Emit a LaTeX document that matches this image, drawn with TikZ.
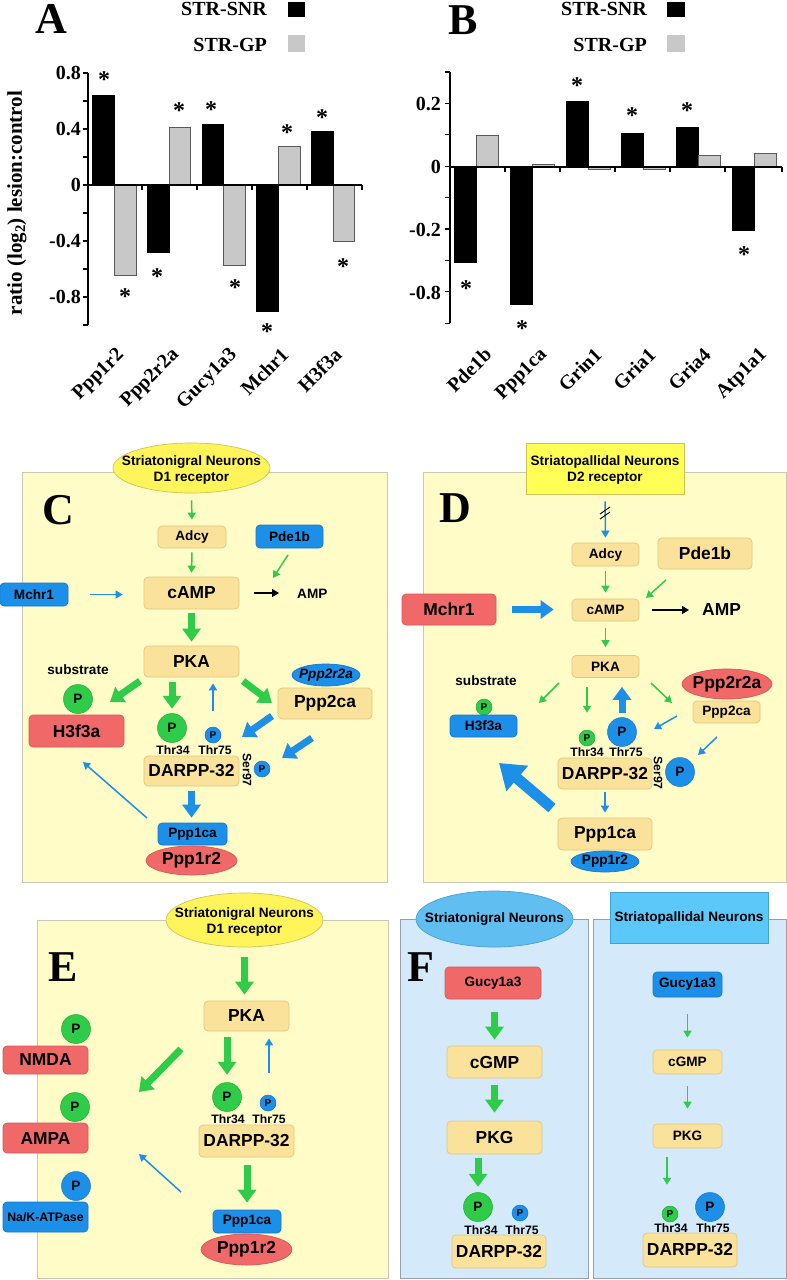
\documentclass[tikz,border=0pt]{standalone}
\usepackage{fontspec}
\setmainfont{Liberation Sans}
\newfontfamily\tms{Liberation Serif}
\usetikzlibrary{arrows.meta,shapes.geometric}
\definecolor{bgY}{RGB}{255,252,200}
\definecolor{bgYb}{RGB}{200,200,180}
\definecolor{bgB}{RGB}{212,234,250}
\definecolor{bgBb}{RGB}{150,160,170}
\definecolor{wh}{RGB}{251,226,155}
\definecolor{whb}{RGB}{225,198,128}
\definecolor{bl}{RGB}{28,144,232}
\definecolor{blb}{RGB}{20,120,205}
\definecolor{rd}{RGB}{240,104,104}
\definecolor{rdb}{RGB}{215,88,88}
\definecolor{gr}{RGB}{46,204,72}
\definecolor{grb}{RGB}{35,170,60}
\definecolor{yel}{RGB}{255,245,90}
\definecolor{yelb}{RGB}{205,195,90}
\definecolor{yelR}{RGB}{255,255,85}
\definecolor{skyE}{RGB}{96,190,240}
\definecolor{skyR}{RGB}{92,200,250}
\definecolor{skyb}{RGB}{70,160,210}
\definecolor{barg}{RGB}{200,200,200}
\definecolor{bargb}{RGB}{90,90,90}
\newcommand\fsS{\fontsize{13.6}{16.5}\selectfont\bfseries}
\newcommand\fsL{\fontsize{17.4}{19}\selectfont\bfseries}
\newcommand\fsT{\fontsize{12.2}{13}\selectfont\bfseries}
\newcommand\fsC{\tms\fontsize{20}{22}\selectfont\bfseries}
\newcommand\fsLet{\tms\fontsize{44}{44}\selectfont\bfseries}
\tikzset{
  bgY/.style={fill=bgY, draw=bgYb, line width=0.8pt},
  bgB/.style={fill=bgB, draw=bgBb, line width=0.8pt},
  box/.style={rectangle, rounded corners=4pt, inner sep=0pt, line width=0.7pt},
  wb/.style={box, fill=wh, draw=whb},
  bb/.style={box, fill=bl, draw=blb},
  rb/.style={box, fill=rd, draw=rdb},
  ell/.style={ellipse, inner sep=0pt, line width=0.7pt},
  be/.style={ell, fill=bl, draw=blb},
  re/.style={ell, fill=rd, draw=rdb},
  ye/.style={ell, fill=yel, draw=yelb},
  sz/.style 2 args={minimum width=#1pt, minimum height=#2pt},
  pL/.style={circle, inner sep=0pt, minimum size=29pt, font=\fsS},
  pS/.style={circle, inner sep=0pt, minimum size=16pt, font=\fontsize{10}{10}\selectfont\bfseries},
  pg/.style={fill=gr, draw=grb, line width=0.5pt},
  pb/.style={fill=bl, draw=blb, line width=0.5pt},
  txt/.style={inner sep=0pt},
  tarr/.style={line width=1.5pt, -{Triangle[length=7pt,width=8pt]}},
  karr/.style={line width=7pt, -{Triangle[length=13pt,width=18pt]}},
  harr/.style={line width=11pt, -{Triangle[length=24pt,width=32pt]}},
  ax/.style={line width=1.3pt},
  barK/.style={fill=black, draw=black, line width=0.6pt},
  barG/.style={fill=barg, draw=bargb, line width=0.6pt},
  astk/.style={inner sep=0pt, font=\tms\bfseries\fontsize{24}{24}\selectfont},
  xl/.style={inner sep=0pt, font=\fsC, rotate=45, anchor=north east},
}
\begin{document}
\begin{tikzpicture}[x=1pt,y=-1pt]
\useasboundingbox (0,0) rectangle (787,1280);
\fill[white] (0,0) rectangle (787,1280);

%================ Panel A =================
\node[txt, font=\fsLet] (a-let) at (51,19) {A};
\node[txt, font=\fsC, anchor=east] (a-l1) at (267,9) {STR-SNR};
\fill[black] (288,2) rectangle (305,17);
\node[txt, font=\fsC, anchor=east] (a-l2) at (267,45) {STR-GP};
\fill[barg] (288,35) rectangle (305,52);
\node[txt, font=\tms\bfseries\fontsize{21}{22}\selectfont, rotate=90] (a-yl) at (17,203) {ratio (log\textsubscript{2}) lesion:control};
\foreach \x/\b/\g in {92.7/95.7/275, 147.3/252.7/127, 201.9/124/265, 256.5/311/146, 311.1/131/241}{
  \filldraw[barK] (\x,185) rectangle ({\x+21.8},\b);
  \filldraw[barG] ({\x+21.8},185) rectangle ({\x+43.4},\g);
}
\draw[ax] (88,73) -- (88,325);
\foreach \k in {0,...,9} \draw[ax] (83,{73+28*\k}) -- (88,{73+28*\k});
\draw[ax] (88,185) -- (362,185);
\foreach \x in {142,197,252,307,362} \draw[ax] (\x,185) -- (\x,190);
\foreach \v/\y [count=\i] in {0.8/73,0.4/129,0/185,-0.4/241,-0.8/297}
  \node[txt, font=\fsC, anchor=east] (a-t\i) at (81,\y) {\v};
\foreach \x/\y [count=\i] in {104/77,125/294,157/274,179/108,211/107,235/285,267/329,287/130,322/115,343/264}
  \node[astk] (a-s\i) at (\x,{\y+3}) {*};
\foreach \t/\x [count=\i] in {Ppp1r2/115,Ppp2r2a/170,Gucy1a3/228,Mchr1/280,H3f3a/333}
  \node[xl] (a-x\i) at (\x,346) {\t};

%================ Panel B =================
\node[txt, font=\fsLet] (b-let) at (463.5,20) {B};
\node[txt, font=\fsC, anchor=east] (b-l1) at (647,9) {STR-SNR};
\fill[black] (667,2) rectangle (685,17);
\node[txt, font=\fsC, anchor=east] (b-l2) at (647,45) {STR-GP};
\fill[barg] (667,35) rectangle (685,52);
\foreach \x/\b/\g in {454/262/135, 510/304/164, 566/101/169.5, 621/133/169.5, 676/127/155, 732/230/153}{
  \filldraw[barK] (\x,167) rectangle ({\x+22.5},\b);
  \filldraw[barG] ({\x+22.5},167) rectangle ({\x+44},\g);
}
\draw[ax] (450,72) -- (450,323.2);
\foreach \k in {0,...,8} \draw[ax] (445,{72+31.4*\k}) -- (450,{72+31.4*\k});
\draw[ax] (450,167) -- (782,167);
\foreach \x in {505,560,615,670,725,782} \draw[ax] (\x,167) -- (\x,172);
\foreach \v/\y [count=\i] in {0.2/104,0/167,-0.2/230,-0.8/293}
  \node[txt, font=\fsC, anchor=east] (b-t\i) at (441,\y) {\v};
\foreach \x/\y [count=\i] in {466/286,522/326,577/83,632/113,687/108,744/252}
  \node[astk] (b-s\i) at (\x,{\y+3}) {*};
\foreach \t/\x [count=\i] in {Pde1b/483,Ppp1ca/538,Grin1/593,Gria1/647,Gria4/702,Atp1a1/758}
  \node[xl] (b-x\i) at (\x,346) {\t};

%================ Panel C =================
\draw[bgY] (22,472) rectangle (387,882);
\node[ye, sz={157}{50}] (c-src) at (191.5,468) {};
\node[txt, font=\fsS, align=center] (c-srct) at (191.5,470) {Striatonigral Neurons\\D1 receptor};
\node[txt, font=\fsLet] (c-let) at (58.5,510) {C};
\node[wb, sz={68}{22}, font=\fsS] (c-adcy) at (192,537) {Adcy};
\node[bb, sz={67}{23}, font=\fsS] (c-pde) at (289.5,536.5) {Pde1b};
\node[wb, sz={95}{32}, font=\fsL] (c-camp) at (191.5,593) {cAMP};
\node[bb, sz={68}{23}, font=\fsS] (c-mchr) at (34,594.5) {Mchr1};
\node[txt, font=\fsS, anchor=west] (c-amp) at (297,594) {AMP};
\node[wb, sz={95}{31}, font=\fsL] (c-pka) at (191.5,661.5) {PKA};
\node[txt, font=\fsS] (c-sub) at (78,670) {substrate};
\node[pL, pg] (c-ph) at (78,699) {P};
\node[rb, sz={95}{32}, font=\fsL] (c-h3) at (76.5,731) {H3f3a};
\node[be, sz={68}{22}, label={[font=\fsS\itshape]center:Ppp2r2a}] (c-r2a) at (326,675) {};
\node[wb, sz={94}{31}, font=\fsL] (c-p2ca) at (325,703.5) {Ppp2ca};
\node[pL, pg] (c-p34) at (172,728) {P};
\node[pS, pb] (c-p75) at (213,735) {P};
\node[txt, font=\fsT] (c-t34) at (173,750) {Thr34};
\node[txt, font=\fsT] (c-t75) at (215,750) {Thr75};
\node[wb, sz={95}{30}, font=\fsL] (c-darpp) at (191.5,771) {DARPP-32};
\node[txt, font=\fsT, rotate=-90] (c-ser) at (247,770) {Ser97};
\node[pS, pb] (c-p97) at (262,769) {P};
\node[bb, sz={69}{22}, font=\fsS] (c-pp1) at (192.5,834) {Ppp1ca};
\node[re, sz={91}{29}, label={[font=\fsL]center:Ppp1r2}] (c-r2) at (191.5,860.5) {};
\coordinate (c-a1s) at (140,681); \coordinate (c-a1e) at (110,702);
\coordinate (c-a2s) at (243,681); \coordinate (c-a2e) at (272,703);
\coordinate (c-a3s) at (272,716); \coordinate (c-a3e) at (242,737);
\coordinate (c-a4s) at (312,738); \coordinate (c-a4e) at (282,758);
\coordinate (c-a5s) at (147,818); \coordinate (c-a5e) at (83,762);
\coordinate (c-a6s) at (288,555); \coordinate (c-a6e) at (273,578);
\draw[tarr, gr, shorten <=7pt, shorten >=6pt] (c-src.south) -- (c-adcy.north);
\draw[tarr, gr, shorten <=4pt, shorten >=4pt] (c-adcy.south) -- (c-camp.north);
\draw[tarr, gr] (c-a6s) -- (c-a6e);
\draw[tarr, bl, shorten <=22pt, shorten >=21pt] (c-mchr.east) -- (c-mchr.east -| c-camp.west);
\draw[tarr, black, shorten <=15pt, shorten >=18pt] (c-camp.east) -- (c-camp.east -| c-amp.west);
\draw[karr, gr, shorten <=4pt, shorten >=4pt] (c-camp.south) -- (c-pka.north);
\draw[karr, gr] (c-a1s) -- (c-a1e);
\draw[karr, gr, shorten <=5pt, shorten >=4.5pt] (c-pka.south -| c-p34) -- (c-p34.north);
\draw[tarr, bl, shorten <=16pt, shorten >=6pt] (c-p75.north) -- (c-p75.north |- c-pka.south);
\draw[karr, gr] (c-a2s) -- (c-a2e);
\draw[karr, bl] (c-a3s) -- (c-a3e);
\draw[karr, bl] (c-a4s) -- (c-a4e);
\draw[karr, bl, shorten <=5pt, shorten >=5pt] (c-darpp.south) -- (c-darpp.south |- c-pp1.north);
\draw[tarr, bl] (c-a5s) -- (c-a5e);

%================ Panel D =================
\draw[bgY] (423,472) rectangle (786,882);
\node[rectangle, fill=yelR, draw=yelb, line width=0.7pt, sz={158}{51}] (d-src) at (605,468.5) {};
\node[txt, font=\fsS, align=center] (d-srct) at (605,470) {Striatopallidal Neurons\\D2 receptor};
\node[txt, font=\fsLet] (d-let) at (455.5,508) {D};
\node[wb, sz={67}{23}, font=\fsS] (d-adcy) at (605.5,554.5) {Adcy};
\node[wb, sz={94}{31}, font=\fsL] (d-pde) at (705,553.5) {Pde1b};
\node[wb, sz={67}{22}, font=\fsS] (d-camp) at (605.5,610) {cAMP};
\node[rb, sz={94}{31}, font=\fsL] (d-mchr) at (449,609.5) {Mchr1};
\node[txt, font=\fsL, anchor=west] (d-amp) at (702,610) {AMP};
\node[wb, sz={67}{22}, font=\fsS] (d-pka) at (605.5,666.5) {PKA};
\node[txt, font=\fsS] (d-sub) at (486,681) {substrate};
\node[pS, pg] (d-ph) at (484,707) {P};
\node[bb, sz={67}{22}, font=\fsS] (d-h3) at (483.5,726) {H3f3a};
\node[re, sz={90}{30}, label={[font=\fsL]center:Ppp2r2a}] (d-r2a) at (727,684) {};
\node[wb, sz={67}{22}, font=\fsS] (d-p2ca) at (726.5,712) {Ppp2ca};
\node[pS, pg] (d-p34) at (587,738) {P};
\node[pL, pb] (d-p75) at (622,732) {P};
\node[txt, font=\fsT] (d-t34) at (587,752) {Thr34};
\node[txt, font=\fsT] (d-t75) at (626,752) {Thr75};
\node[wb, sz={94}{31}, font=\fsL] (d-darpp) at (605,773.5) {DARPP-32};
\node[txt, font=\fsT, rotate=-90] (d-ser) at (658,773) {Ser97};
\node[pL, pb] (d-p97) at (680,772) {P};
\node[wb, sz={94}{32}, font=\fsL] (d-pp1) at (605,834) {Ppp1ca};
\node[be, sz={68}{21}, label={[font=\fsS]center:Ppp1r2}] (d-r2) at (605,861.5) {};
\coordinate (d-a1s) at (666,580); \coordinate (d-a1e) at (646,598);
\coordinate (d-a2s) at (559,683); \coordinate (d-a2e) at (539,703);
\coordinate (d-a3s) at (651,683); \coordinate (d-a3e) at (672,703);
\coordinate (d-a4s) at (677,716); \coordinate (d-a4e) at (654,729);
\coordinate (d-a5s) at (717,737); \coordinate (d-a5e) at (698,755);
\coordinate (d-a6s) at (552,808); \coordinate (d-a6e) at (499,763);
\draw[tarr, bl, shorten <=7pt, shorten >=5pt] (d-src.south) -- (d-adcy.north);
\draw[black, line width=0.9pt] (600,514) -- (610,507) (600,519) -- (610,512);
\draw[tarr, gr, shorten <=5pt, shorten >=6pt] (d-adcy.south) -- (d-camp.north);
\draw[tarr, gr] (d-a1s) -- (d-a1e);
\draw[karr, bl, shorten <=16pt, shorten >=18pt] (d-mchr.east) -- (d-mchr.east -| d-camp.west);
\draw[tarr, black, shorten <=13pt, shorten >=13pt] (d-camp.east) -- (d-camp.east -| d-amp.west);
\draw[tarr, gr, shorten <=7pt, shorten >=8pt] (d-camp.south) -- (d-pka.north);
\draw[tarr, gr] (d-a2s) -- (d-a2e);
\draw[tarr, gr, shorten <=9pt, shorten >=17pt] (d-pka.south -| d-p34) -- (d-p34.north);
\draw[karr, bl, shorten <=4.5pt, shorten >=9pt] (d-p75.north) -- (d-p75.north |- d-pka.south);
\draw[tarr, gr] (d-a3s) -- (d-a3e);
\draw[tarr, bl] (d-a4s) -- (d-a4e);
\draw[tarr, bl] (d-a5s) -- (d-a5e);
\draw[tarr, bl, shorten <=3pt, shorten >=5pt] (d-darpp.south) -- (d-pp1.north);
\draw[harr, bl] (d-a6s) -- (d-a6e);

%================ Panel E =================
\draw[bgY] (37,920) rectangle (388,1278);
\node[ye, sz={157}{54}] (e-src) at (244.5,920) {};
\node[txt, font=\fsS, align=center] (e-srct) at (244.5,922) {Striatonigral Neurons\\D1 receptor};
\node[txt, font=\fsLet] (e-let) at (63,967) {E};
\node[wb, sz={85}{30}, font=\fsL] (e-pka) at (246.5,1016) {PKA};
\node[pL, pg] (e-p34) at (227,1097) {P};
\node[pS, pb] (e-p75) at (268,1103) {P};
\node[txt, font=\fsT] (e-t34) at (228,1119) {Thr34};
\node[txt, font=\fsT] (e-t75) at (269,1119) {Thr75};
\node[wb, sz={95}{32}, font=\fsL] (e-darpp) at (246.5,1141) {DARPP-32};
\node[bb, sz={68}{23}, font=\fsS] (e-pp1) at (247,1221.5) {Ppp1ca};
\node[re, sz={91}{31}, label={[font=\fsL]center:Ppp1r2}] (e-r2) at (246.5,1249.5) {};
\node[pL, pg] (e-pn) at (76,1029) {P};
\node[rb, sz={85}{28}, font=\fsL] (e-nmda) at (45.5,1060) {NMDA};
\node[pL, pg] (e-pa) at (75,1107) {P};
\node[rb, sz={85}{30}, font=\fsL] (e-ampa) at (45.5,1138) {AMPA};
\node[pL, pb] (e-pk) at (76,1186) {P};
\node[bb, sz={85}{30}, font=\fontsize{12.3}{13}\selectfont\bfseries] (e-nak) at (45.5,1217) {Na/K-ATPase};
\coordinate (e-a1s) at (181,1049); \coordinate (e-a1e) at (139,1092);
\coordinate (e-a2s) at (181,1192); \coordinate (e-a2e) at (139,1154);
\draw[karr, gr, shorten <=10pt, shorten >=6pt] (e-src.south) -- (e-src.south |- e-pka.north);
\draw[karr, gr, shorten <=6pt, shorten >=7.5pt] (e-pka.south -| e-p34) -- (e-p34.north);
\draw[tarr, bl, shorten <=22pt, shorten >=7pt] (e-p75.north -| 269,0) -- (e-pka.south -| 269,0);
\draw[karr, gr, shorten <=8pt, shorten >=7pt] (e-darpp.south -| e-pp1) -- (e-pp1.north);
\draw[karr, gr] (e-a1s) -- (e-a1e);
\draw[tarr, bl] (e-a2s) -- (e-a2e);

%================ Panel F =================
\draw[bgB] (400,919) rectangle (588,1278);
\draw[bgB] (593,919) rectangle (786,1278);
\node[ell, fill=skyE, draw=skyb, sz={157}{56}, label={[font=\fsS]center:Striatonigral Neurons}] (f-src1) at (494.5,919) {};
\node[rectangle, fill=skyR, draw=skyb, line width=0.5pt, sz={158}{51}, font=\fsS] (f-src2) at (689,917.5) {Striatopallidal Neurons};
\node[txt, font=\fsLet] (f-let) at (420.5,967.5) {F};
\node[rb, sz={96}{32}, font=\fsS] (f-g1) at (493,983) {Gucy1a3};
\node[wb, sz={95}{32}, font=\fsL] (f-c1) at (494.5,1062) {cGMP};
\node[wb, sz={95}{33}, font=\fsL] (f-k1) at (494.5,1137.5) {PKG};
\node[pL, pg] (f-p34a) at (478,1207) {P};
\node[pS, pb] (f-p75a) at (520,1213) {P};
\node[txt, font=\fsT] (f-t34a) at (481,1230) {Thr34};
\node[txt, font=\fsT] (f-t75a) at (522,1230) {Thr75};
\node[wb, sz={94}{33}, font=\fsL] (f-d1) at (499,1251.5) {DARPP-32};
\node[bb, sz={69}{25}, font=\fsS] (f-g2) at (687.5,984.5) {Gucy1a3};
\node[wb, sz={69}{24}, font=\fsS] (f-c2) at (687.5,1062) {cGMP};
\node[wb, sz={69}{24}, font=\fsS] (f-k2) at (687.5,1136) {PKG};
\node[pS, pg] (f-p34b) at (670,1214) {P};
\node[pL, pb] (f-p75b) at (710,1207) {P};
\node[txt, font=\fsT] (f-t34b) at (671,1228) {Thr34};
\node[txt, font=\fsT] (f-t75b) at (713,1228) {Thr75};
\node[wb, sz={94}{34}, font=\fsL] (f-d2) at (690,1250) {DARPP-32};
\draw[karr, gr, shorten <=13pt, shorten >=6pt] (f-g1.south -| f-c1) -- (f-c1.north);
\draw[karr, gr, shorten <=7pt, shorten >=8pt] (f-c1.south) -- (f-k1.north);
\draw[karr, gr, shorten <=4pt, shorten >=5.5pt] (f-k1.south -| f-p34a) -- (f-p34a.north);
\draw[tarr, gr, shorten <=17pt, shorten >=12pt] (f-g2.south) -- (f-c2.north);
\draw[tarr, gr, shorten <=12pt, shorten >=15pt] (f-c2.south) -- (f-k2.north);
\draw[tarr, gr, shorten <=9pt, shorten >=21pt] (f-k2.south -| 667,0) -- (f-p34b.north -| 667,0);
\end{tikzpicture}
\end{document}
